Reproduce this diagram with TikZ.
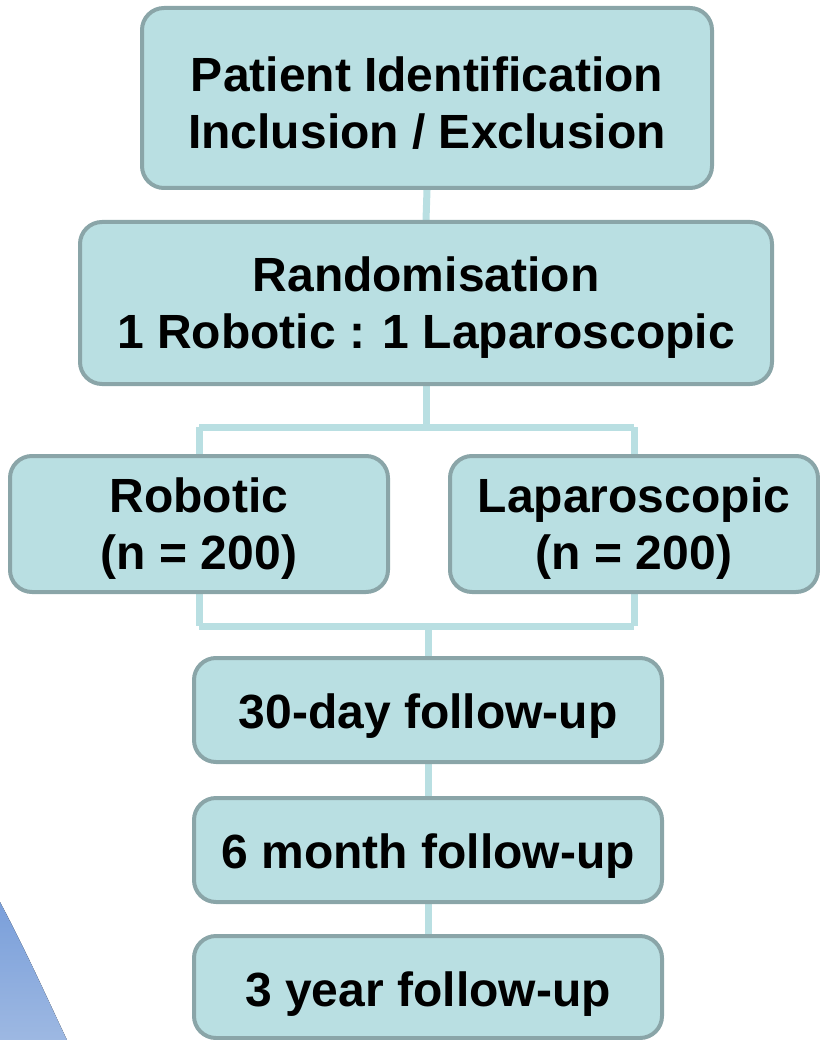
\documentclass[tikz,border=0pt]{standalone}
\usepackage{fontspec}
\setmainfont{Liberation Sans}
\usetikzlibrary{backgrounds}
\definecolor{boxfill}{HTML}{B9DFE2}
\definecolor{boxline}{HTML}{8AA5A8}
\definecolor{linkc}{HTML}{B9DFE2}
\definecolor{blueA}{HTML}{7A9FDA}
\definecolor{blueB}{HTML}{9DB8E2}
\tikzset{
  stage/.style={draw=boxline, fill=boxfill, line width=4pt, rounded corners=22pt, inner sep=0pt},
  stagetext/.style={align=center, inner sep=0pt, font=\fontsize{48}{57}\selectfont\bfseries},
  link/.style={draw=linkc, line width=7pt}
}
\begin{document}
\begin{tikzpicture}[x=1pt,y=-1pt]
\useasboundingbox (0,0) rectangle (819,1040);
\fill[top color=blueA, bottom color=blueB] (0,902) .. controls (28,955) and (48,1000) .. (67,1040) -- (0,1040) -- cycle;
\node[stage, minimum width=570pt, minimum height=180pt] (b1) at (427,98) {};
\node[stage, minimum width=692pt, minimum height=162pt] (b2) at (426,303) {};
\node[stage, minimum width=378pt, minimum height=136pt] (b3) at (199,524) {};
\node[stage, minimum width=368pt, minimum height=136pt] (b4) at (634,524) {};
\node[stage, minimum width=468pt, minimum height=104pt] (b5) at (428,710) {};
\node[stage, minimum width=468pt, minimum height=104pt] (b6) at (428,850) {};
\node[stage, minimum width=468pt, minimum height=102pt] (b7) at (428,987) {};
\node[stagetext] (t1) at ([yshift=-5pt]b1.center) {Patient Identification\\Inclusion / Exclusion};
\node[stagetext] (t2) at ([yshift=-5pt]b2.center) {Randomisation\\1 Robotic : 1 Laparoscopic};
\node[stagetext] (t3) at ([yshift=-5pt]b3.center) {Robotic\\(n = 200)};
\node[stagetext] (t4) at ([yshift=-5pt]b4.center) {Laparoscopic\\(n = 200)};
\node[stagetext] (t5) at ([yshift=-6pt]b5.center) {30-day follow-up};
\node[stagetext] (t6) at ([yshift=-6pt]b6.center) {6 month follow-up};
\node[stagetext] (t7) at ([yshift=-7pt]b7.center) {3 year follow-up};
\coordinate (s1) at (427,427);
\coordinate (s2) at (428,626);
\begin{scope}[on background layer]
\draw[link] (b1.south) -- (b2.north);
\draw[link] (b2.south) -- (b2.south |- s1);
\draw[link] (b3.north |- s1) -- (b4.north |- s1);
\draw[link] (b3.north |- s1) -- (b3.north);
\draw[link] (b4.north |- s1) -- (b4.north);
\draw[link] (b3.south) -- (b3.south |- s2);
\draw[link] (b4.south) -- (b4.south |- s2);
\draw[link] (b3.south |- s2) -- (b4.south |- s2);
\draw[link] (s2) -- (b5.north);
\draw[link] (b5.south) -- (b6.north);
\draw[link] (b6.south) -- (b7.north);
\end{scope}
\end{tikzpicture}
\end{document}
